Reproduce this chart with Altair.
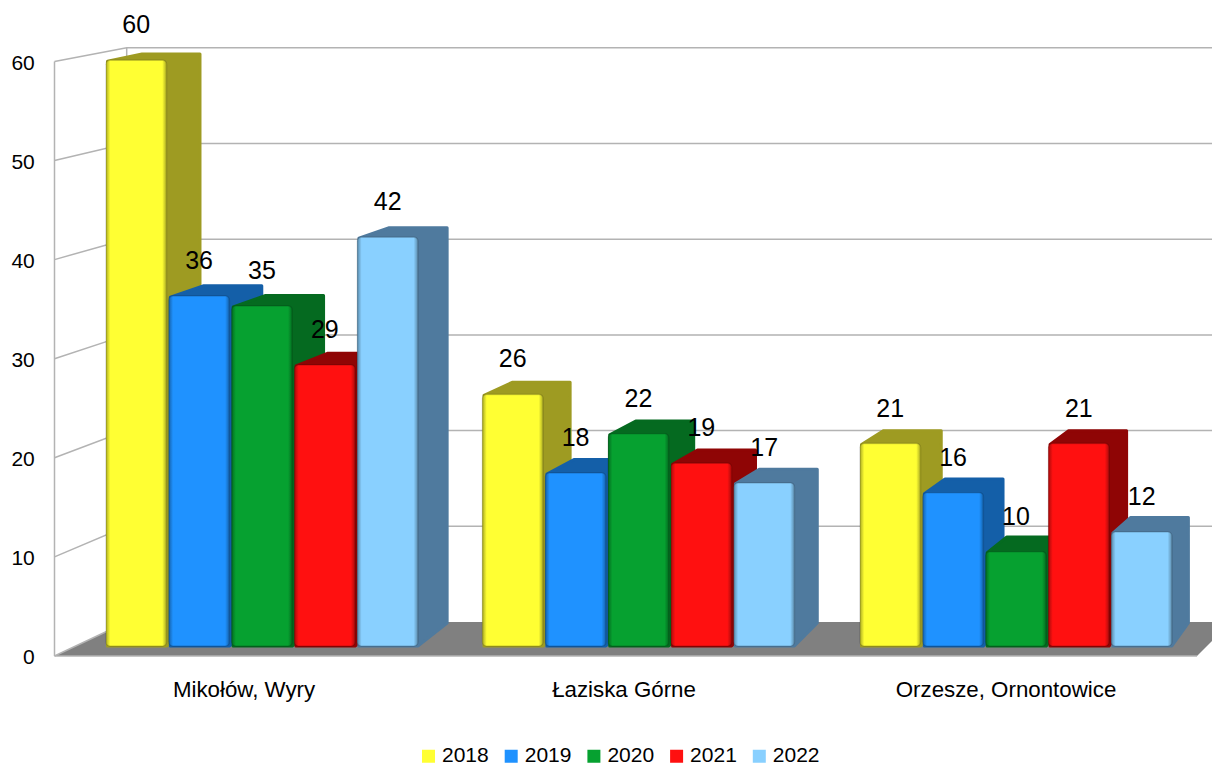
import altair as alt
import pandas as pd

FONT = "Liberation Sans"
categories = ["Mikołów, Wyry", "Łaziska Górne", "Orzesze, Ornontowice"]
years = ["2018", "2019", "2020", "2021", "2022"]
values_2018 = [60, 26, 21]
values_2019 = [36, 18, 16]
values_2020 = [35, 22, 10]
values_2021 = [29, 19, 21]
values_2022 = [42, 17, 12]
front_colors = ["#ffff33", "#1f92ff", "#06a130", "#ff1010", "#89d0ff"]
side_colors = ["#9e9b22", "#145fa8", "#056a20", "#8f0505", "#4f7a9e"]
ticks = [0, 10, 20, 30, 40, 50, 60]
series = [values_2018, values_2019, values_2020, values_2021, values_2022]

# Layout of the pseudo-3D projection, in page pixels
group_start = [106, 482.5, 860]
label_centre = [244, 624, 1006]
SLOT, BAR_W = 62.85, 60.5
PAGE_W = 1204


def val(py):  # page y -> value on the front axis
    return (656 - py) / 9.91


def depth_dx(x):
    return 37.8 - 0.0169 * x


def top_py(v):
    return 650 - 9.83 * v


BASE = 646
side_rows, bar_rows, label_rows = [], [], []
for g, start in enumerate(group_start):
    for s, vals in enumerate(series):
        v = vals[g]
        x0 = start + s * SLOT
        x1 = x0 + BAR_W
        t = top_py(v)
        b = t - (18 - 0.17 * v) + 1.5
        bb = BASE - 23
        xb = x1 + depth_dx(x1) - 1.5
        bid = f"{g}-{s}"
        for px, up, lo in [
            (x0 + 1.5, t + 1, BASE),
            (x0 + depth_dx(x0), b, BASE),
            (x1, b, BASE),
            (xb, b, bb),
        ]:
            side_rows.append(dict(id=bid, x=px, y=val(up), y2=val(lo), c=side_colors[s]))
        bar_rows.append(dict(year=years[s], x=x0, x2=x1, y=val(t), y2=val(BASE)))
        label_rows.append(dict(x=(x0 + x1) / 2, y=val(t - 35), t=str(v)))

xs = alt.Scale(domain=[8, 8 + PAGE_W], range=[0, PAGE_W], nice=False, zero=False)
ys = alt.Scale(domain=[val(764), val(8)], range=[756, 0], nice=False, zero=False)
X = lambda f="x": alt.X(f"{f}:Q", scale=xs, axis=None)
Y = lambda f="y": alt.Y(f"{f}:Q", scale=ys, axis=None)

GRID = "#b3b3b3"
# floor
floor = pd.DataFrame(
    dict(x=[54.5, 126.7, 1197, 1231], y=[val(656), val(622), val(622), val(622)],
         y2=[val(656), val(656), val(656), val(622)])
)
floor_l = alt.Chart(floor).mark_area(color="#808080", clip=True).encode(X(), Y(), y2="y2:Q")

# walls and gridlines
grid_rows = []
for t in ticks:
    yf = val(656 - 9.91 * t)
    yb = val(622 - 9.57 * t)
    pts = [(54.5, yf), (126.7, yb)]
    if t > 0:
        pts.append((1220, yb))
    for px, py in pts:
        grid_rows.append(dict(id=t, x=px, y=py))
grid_l = alt.Chart(pd.DataFrame(grid_rows)).mark_line(color=GRID, strokeWidth=1.5, clip=True).encode(
    X(), Y(), detail="id:N"
)
wall_rows = [dict(id="f", x=54.5, y=val(656)), dict(id="f", x=54.5, y=val(61.5)),
             dict(id="b", x=126.7, y=val(622)), dict(id="b", x=126.7, y=val(48)),
             dict(id="e", x=54.5, y=val(656)), dict(id="e", x=1197, y=val(656))]
wall_l = alt.Chart(pd.DataFrame(wall_rows)).mark_line(color=GRID, strokeWidth=1.5).encode(
    X(), Y(), detail="id:N", order=alt.Order("y:Q")
)

# tick labels
tick_df = pd.DataFrame(dict(x=[34.8] * len(ticks), y=[t - 2.2 / 9.91 for t in ticks],
                            t=[str(t) for t in ticks]))
tick_l = alt.Chart(tick_df).mark_text(font=FONT, fontSize=21, color="#000000", baseline="middle",
                                      align="right").encode(X(), Y(), text="t:N")

# depth faces (top + side silhouettes)
sides = alt.Chart(pd.DataFrame(side_rows)).mark_area(strokeWidth=3, strokeJoin="round").encode(
    X(), Y(), y2="y2:Q",
    fill=alt.Fill("c:N", scale=None),
    stroke=alt.Stroke("c:N", scale=None),
    detail="id:N",
)

bars_df = pd.DataFrame(bar_rows)
fronts = alt.Chart(bars_df).mark_bar(cornerRadius=4).encode(
    X(), x2="x2:Q", y=Y(), y2="y2:Q",
    color=alt.Color("year:N", scale=alt.Scale(domain=years, range=front_colors),
                    legend=alt.Legend(orient="none", legendX=410, legendY=737.5, direction="horizontal",
                                      columns=5, title=None, symbolType="square", symbolSize=169,
                                      symbolStrokeWidth=0, labelFont=FONT, labelFontSize=21,
                                      labelColor="#000000", labelOffset=3, columnPadding=11.7,
                                      symbolOpacity=1)),
)
EDGE = "rgba(0,0,0,0.32)"
CLEAR = "rgba(0,0,0,0)"
shade = alt.Chart(bars_df).mark_bar(
    cornerRadius=4,
    fill=alt.Gradient(gradient="linear", x1=0, x2=1, y1=0, y2=0, stops=[
        alt.GradientStop(offset=0, color=EDGE),
        alt.GradientStop(offset=0.07, color=CLEAR),
        alt.GradientStop(offset=0.93, color=CLEAR),
        alt.GradientStop(offset=1, color=EDGE),
    ]),
    stroke="rgba(0,0,0,0.14)", strokeWidth=1.5,
).encode(X(), x2="x2:Q", y=Y(), y2="y2:Q")

labels = alt.Chart(pd.DataFrame(label_rows)).mark_text(
    font=FONT, fontSize=25, color="#000000", baseline="middle"
).encode(X(), Y(), text="t:N")

cats = pd.DataFrame(dict(x=label_centre, y=[val(690)] * 3, t=categories))
cat_l = alt.Chart(cats).mark_text(font=FONT, fontSize=22.3, color="#000000", baseline="middle").encode(
    X(), Y(), text="t:N"
)

chart = alt.layer(floor_l, grid_l, wall_l, tick_l, sides, fronts, shade, labels, cat_l).properties(
    width=PAGE_W, height=756, padding=0, autosize=alt.AutoSizeParams(type="none"),
    background="#ffffff",
).configure_view(stroke=None)

chart.save("out.html", embed_options={"renderer": "svg", "actions": False})
